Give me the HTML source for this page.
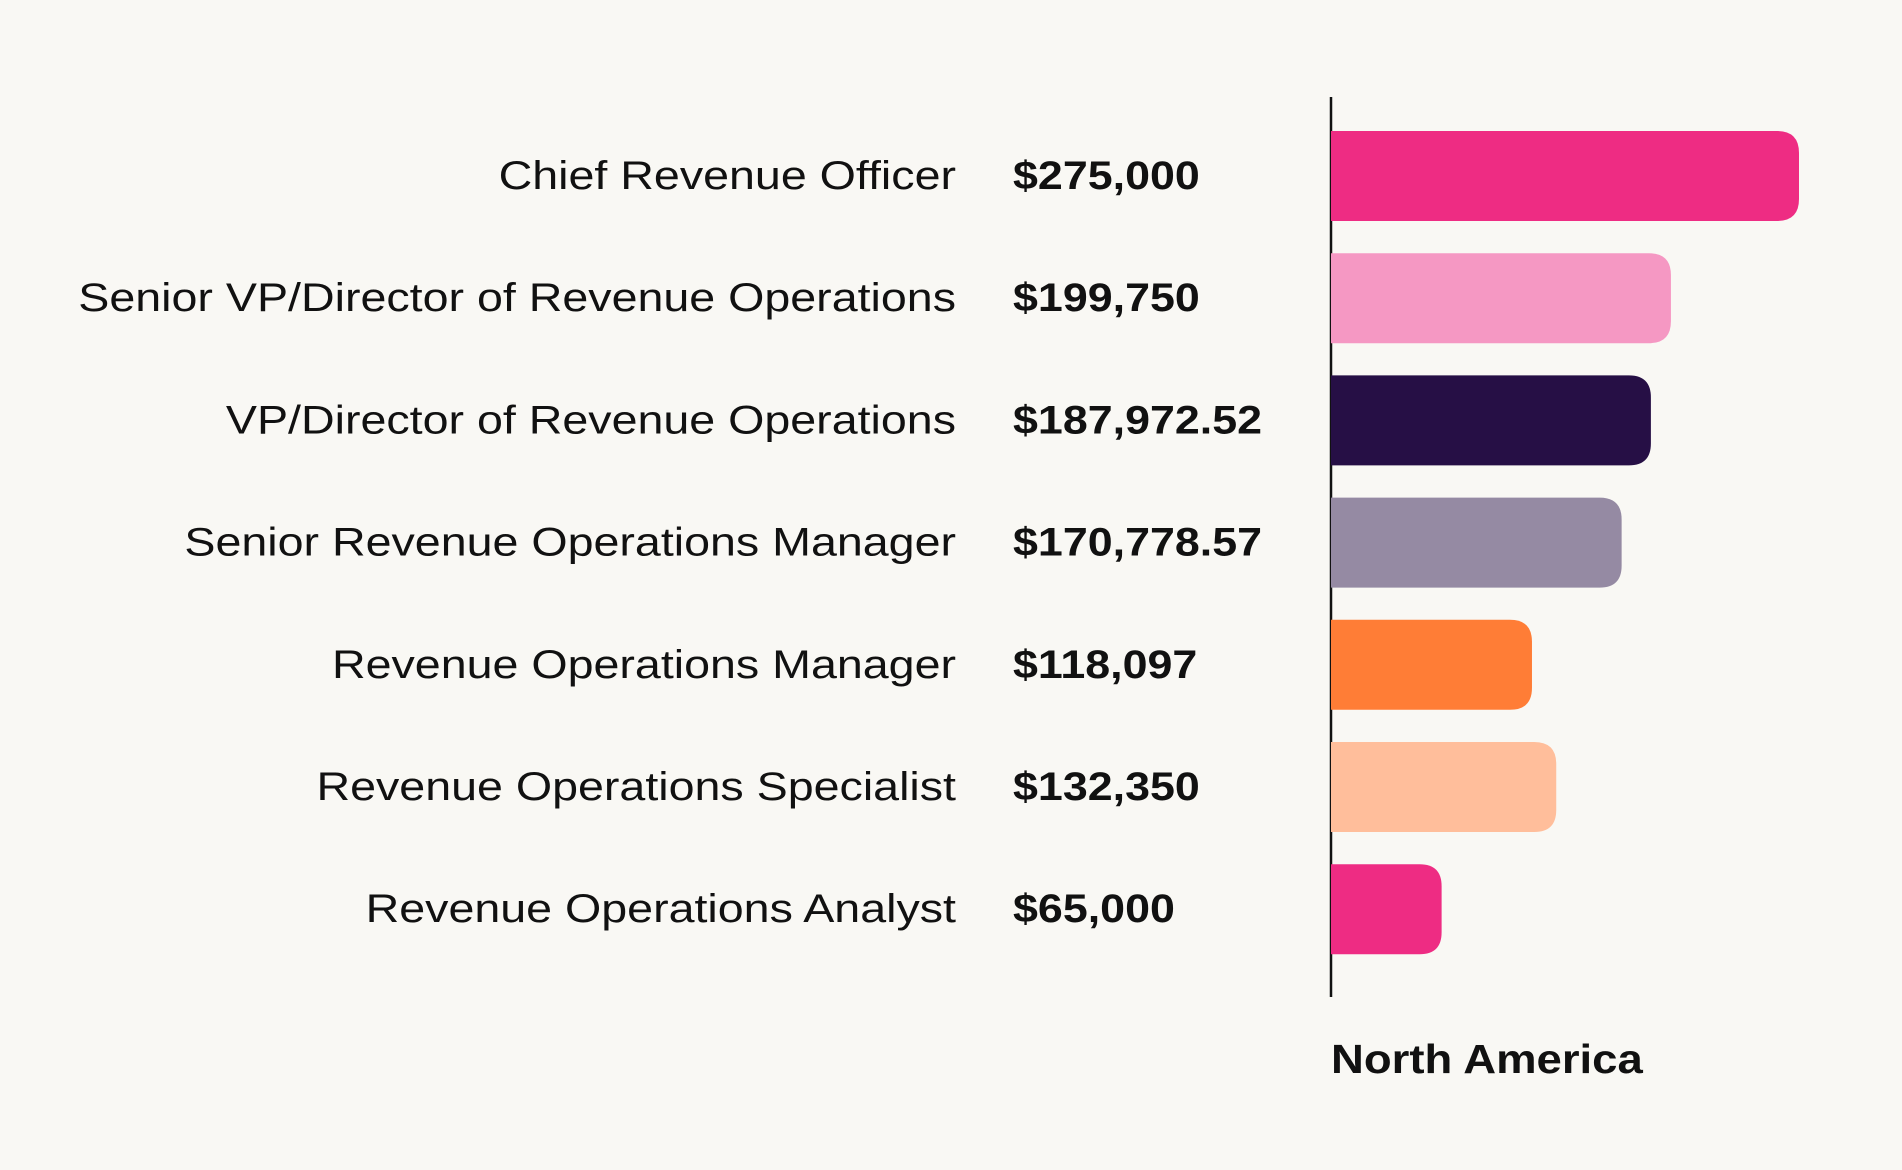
<!DOCTYPE html>
<html>
<head>
<meta charset="utf-8">
<style>
  html, body { margin: 0; padding: 0; background: #f9f8f4; }
  body { width: 1902px; height: 1170px; overflow: hidden; font-family: "Liberation Sans", "DejaVu Sans", sans-serif; }
  svg { display: block; }
</style>
</head>
<body>
<svg id="chart" width="1902" height="1170" viewBox="0 0 1902 1170">
  <rect width="1902" height="1170" fill="#f9f8f4"/>
  <line x1="1331" y1="97" x2="1331" y2="997" stroke="#111" stroke-width="2.5"/>
  <g id="bars"></g>
  <text x="0" y="0" transform="translate(1331,1073) scale(1.11,1)" font-size="41" font-weight="bold" fill="#111">North America</text>
</svg>
<script>
const categories = ["Chief Revenue Officer","Senior VP/Director of Revenue Operations","VP/Director of Revenue Operations","Senior Revenue Operations Manager","Revenue Operations Manager","Revenue Operations Specialist","Revenue Operations Analyst"];
const values = [275000, 199750, 187972.52, 170778.57, 118097, 132350, 65000];
const valueLabels = ["$275,000","$199,750","$187,972.52","$170,778.57","$118,097","$132,350","$65,000"];
const colors = ["#ee2c83","#f598c3","#260f45","#958aa3","#ff7d36","#ffbe9b","#ee2c83"];

const NS = "http://www.w3.org/2000/svg";
const x0 = 1331, maxW = 468, maxV = 275000;
const xScale = v => v / maxV * maxW;
const yTop = i => 131 + i * 122.2;
const bh = 90, r = 22;
const g = document.getElementById("bars");
categories.forEach((c, i) => {
  const w = xScale(values[i]);
  const y = yTop(i);
  const p = document.createElementNS(NS, "path");
  const rr = Math.min(r, w / 2);
  p.setAttribute("d", `M${x0},${y} H${x0 + w - rr} Q${x0 + w},${y} ${x0 + w},${y + rr} V${y + bh - rr} Q${x0 + w},${y + bh} ${x0 + w - rr},${y + bh} H${x0} Z`);
  p.setAttribute("fill", colors[i]);
  
  
  g.appendChild(p);

  const t = document.createElementNS(NS, "text");
  t.setAttribute("x", 0);
  t.setAttribute("y", 0);
  t.setAttribute("transform", `translate(956,${y + bh / 2 + 13}) scale(1.165,1)`);
  t.setAttribute("text-anchor", "end");
  t.setAttribute("font-size", "40");
  t.setAttribute("fill", "#111");
  t.textContent = c;
  
  
  g.appendChild(t);

  const v = document.createElementNS(NS, "text");
  v.setAttribute("x", 0);
  v.setAttribute("y", 0);
  v.setAttribute("transform", `translate(1013,${y + bh / 2 + 13}) scale(1.12,1)`);
  v.setAttribute("font-size", "40");
  v.setAttribute("font-weight", "bold");
  v.setAttribute("fill", "#111");
  v.textContent = valueLabels[i];
  
  
  g.appendChild(v);
});
</script>
</body>
</html>
